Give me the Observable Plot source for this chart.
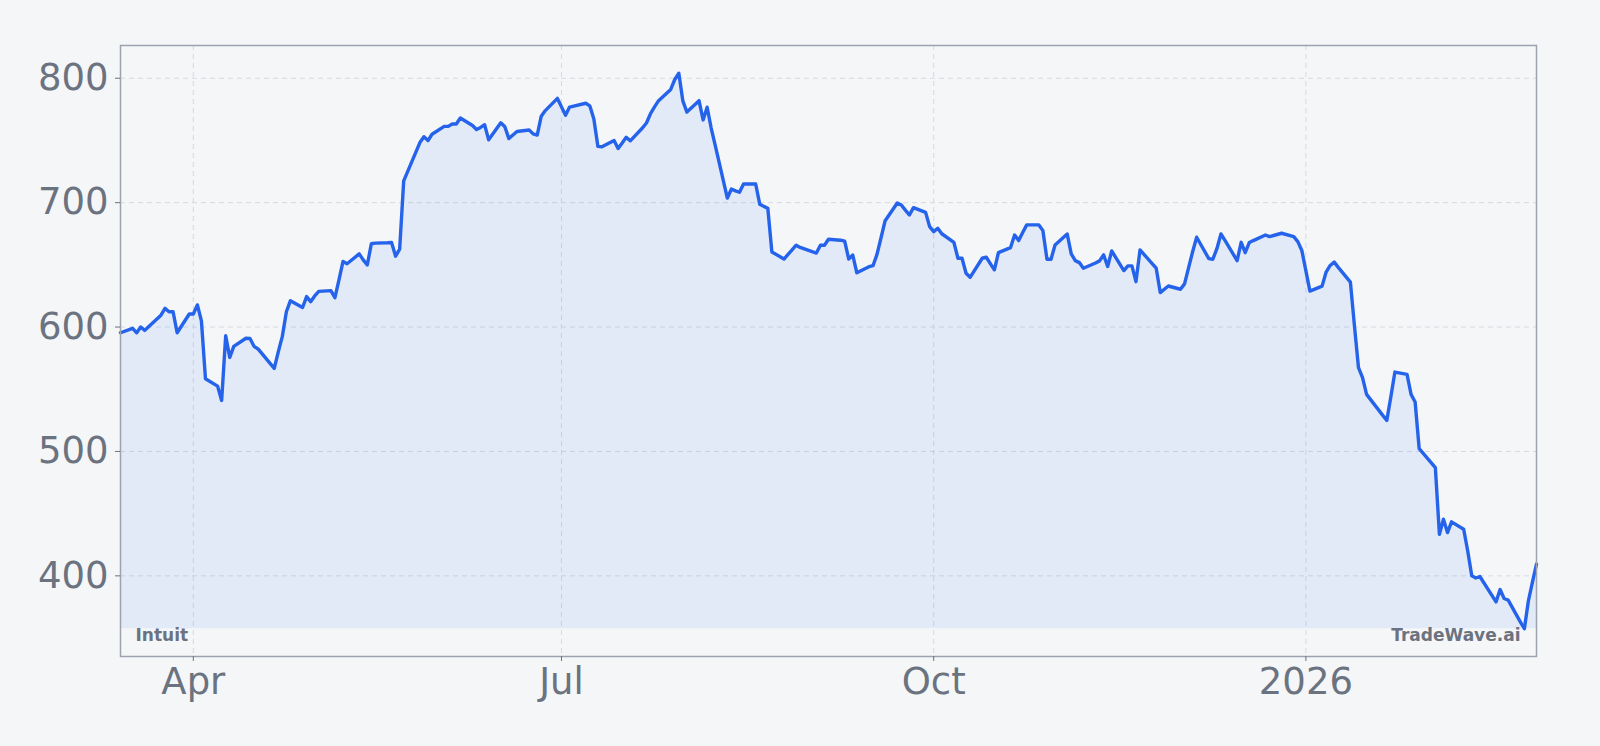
<!DOCTYPE html>
<html>
<head>
<meta charset="utf-8">
<script src="https://cdn.jsdelivr.net/npm/d3@7"></script>
<script src="https://cdn.jsdelivr.net/npm/@observablehq/plot@0.6"></script>
<style>
  html, body { margin: 0; padding: 0; background: #f5f6f8; }
  #chart { width: 1600px; height: 746px; }
</style>
</head>
<body>
<div id="chart"></div>
<script>
const dates = [
  "2025-03-14","2025-03-17","2025-03-18","2025-03-19","2025-03-20","2025-03-21","2025-03-24","2025-03-25","2025-03-26","2025-03-27","2025-03-28","2025-03-31",
  "2025-04-01","2025-04-02","2025-04-03","2025-04-04","2025-04-07","2025-04-08","2025-04-09","2025-04-10","2025-04-11","2025-04-14","2025-04-15","2025-04-16","2025-04-17","2025-04-21","2025-04-22","2025-04-23","2025-04-24","2025-04-25","2025-04-28","2025-04-29","2025-04-30",
  "2025-05-01","2025-05-02","2025-05-05","2025-05-06","2025-05-07","2025-05-08","2025-05-09","2025-05-12","2025-05-13","2025-05-14","2025-05-15","2025-05-16","2025-05-19","2025-05-20","2025-05-21","2025-05-22","2025-05-23","2025-05-27","2025-05-28","2025-05-29","2025-05-30",
  "2025-06-02","2025-06-03","2025-06-04","2025-06-05","2025-06-06","2025-06-09","2025-06-10","2025-06-11","2025-06-12","2025-06-13","2025-06-16","2025-06-17","2025-06-18","2025-06-20","2025-06-23","2025-06-24","2025-06-25","2025-06-26","2025-06-27","2025-06-30",
  "2025-07-01","2025-07-02","2025-07-03","2025-07-07","2025-07-08","2025-07-09","2025-07-10","2025-07-11","2025-07-14","2025-07-15","2025-07-16","2025-07-17","2025-07-18","2025-07-21","2025-07-22","2025-07-23","2025-07-24","2025-07-25","2025-07-28","2025-07-29","2025-07-30","2025-07-31",
  "2025-08-01","2025-08-04","2025-08-05","2025-08-06","2025-08-07","2025-08-08","2025-08-11","2025-08-12","2025-08-13","2025-08-14","2025-08-15","2025-08-18","2025-08-19","2025-08-20","2025-08-21","2025-08-22","2025-08-25","2025-08-26","2025-08-27","2025-08-28","2025-08-29",
  "2025-09-02","2025-09-03","2025-09-04","2025-09-05","2025-09-08","2025-09-09","2025-09-10","2025-09-11","2025-09-12","2025-09-15","2025-09-16","2025-09-17","2025-09-18","2025-09-19","2025-09-22","2025-09-23","2025-09-24","2025-09-25","2025-09-26","2025-09-29","2025-09-30",
  "2025-10-01","2025-10-02","2025-10-03","2025-10-06","2025-10-07","2025-10-08","2025-10-09","2025-10-10","2025-10-13","2025-10-14","2025-10-15","2025-10-16","2025-10-17","2025-10-20","2025-10-21","2025-10-22","2025-10-23","2025-10-24","2025-10-27","2025-10-28","2025-10-29","2025-10-30","2025-10-31",
  "2025-11-03","2025-11-04","2025-11-05","2025-11-06","2025-11-07","2025-11-10","2025-11-11","2025-11-12","2025-11-13","2025-11-14","2025-11-17","2025-11-18","2025-11-19","2025-11-20","2025-11-21","2025-11-24","2025-11-25","2025-11-26","2025-11-28",
  "2025-12-01","2025-12-02","2025-12-03","2025-12-04","2025-12-05","2025-12-08","2025-12-09","2025-12-10","2025-12-11","2025-12-12","2025-12-15","2025-12-16","2025-12-17","2025-12-18","2025-12-19","2025-12-22","2025-12-23","2025-12-24","2025-12-26","2025-12-29","2025-12-30","2025-12-31",
  "2026-01-02","2026-01-05","2026-01-06","2026-01-07","2026-01-08","2026-01-09","2026-01-12","2026-01-13","2026-01-14","2026-01-15","2026-01-16","2026-01-20","2026-01-21","2026-01-22","2026-01-23","2026-01-26","2026-01-27","2026-01-28","2026-01-29","2026-01-30",
  "2026-02-02","2026-02-03","2026-02-04","2026-02-05","2026-02-06","2026-02-09","2026-02-10","2026-02-11","2026-02-12","2026-02-13","2026-02-17","2026-02-18","2026-02-19","2026-02-20","2026-02-23","2026-02-24","2026-02-25","2026-02-26","2026-02-27"
];
const prices = [
  595.4,599,595.4,600,597.3,600.5,609.5,615,612.3,612.3,595.4,610.5,
  610.5,617.8,605,558.5,552.5,541,593,575.6,584.5,591,590.8,584.5,582.4,566.8,580,592.5,612.3,621.2,615.7,624.5,620.4,
  625,628.7,629.3,623.6,638,652.8,650.9,658.8,654,649.9,667,667.5,667.8,668,657,662.6,717.5,748.3,753,749.9,755,
  761.3,761.3,763.2,763.2,768,762,758.8,760.5,762.6,750.5,764.2,761,751.5,757.2,758.4,755.3,754.3,769.5,774,783.8,
  777,770.3,776.8,779.9,777.8,767.3,745.2,744.9,750,743.5,748,752.5,749.7,760,764,771.5,777,782,791,799,804,781.8,
  772.8,782,766.5,776.7,760,746,703.7,711,709.5,708.4,715,715,698.8,697,695.5,660.4,654.7,658.4,662.1,665.8,664,
  659.5,665.8,665.8,670.6,669.8,669,654.7,657.9,643.6,648.5,649.3,658.6,672,685.5,699.7,698.1,694,690.1,696,692.2,680.7,
  676.7,679.4,675,668,655.3,655.3,643.2,640,655.3,656.1,651,646,659.8,663.9,674,669.5,676,682.1,682.1,677.5,654.5,654.5,666,
  674.8,658.8,653.4,651.8,647.3,651.5,653.2,658,648.7,661.2,645.4,649.2,649.2,636.5,662,651,647.3,627.7,633,
  630.4,634.7,647.6,660.5,672.2,655,654.5,663,674.8,669.6,653.4,668.1,659.8,667.9,669.5,674,672.7,673.6,675.4,672.7,668.7,661.5,
  628.9,632.9,644.2,649.5,652.2,648,636.1,601,567.3,559.3,545.9,529,525,544,563.8,562,545.9,539.8,502.3,498.5,
  487,433.5,445.5,434.8,443.4,437.5,420,400,398.3,399.5,379.1,389,381.8,380.5,363,357.5,380,395,409.5
];
const xTickDates = ["2025-04-01","2025-07-01","2025-10-01","2026-01-01"];
const yTickValues = [400, 500, 600, 700, 800];
const sourceLabel = "Intuit";
const brandLabel = "TradeWave.ai";

const data = dates.map((d, i) => ({date: new Date(d), price: prices[i]}));
const xTicks = xTickDates.map(d => new Date(d));
const yMin = d3.min(prices), yMax = d3.max(prices);
const pad = (yMax - yMin) * 0.05;
const fmtMonth = d3.utcFormat("%b");
const tickFormat = d => d.getUTCMonth() === 0 ? String(d.getUTCFullYear()) : fmtMonth(d);

const chart = Plot.plot({
  width: 1600,
  height: 746,
  marginTop: 45,
  marginRight: 64,
  marginBottom: 90,
  marginLeft: 120,
  style: {background: "#f5f6f8", fontFamily: "DejaVu Sans", color: "#6b7280"},
  x: {type: "utc", domain: d3.extent(data, d => d.date)},
  y: {domain: [yMin - pad, yMax + pad]},
  marks: [
    Plot.gridX(xTicks, {stroke: "#d6dae0", strokeOpacity: 1, strokeDasharray: "5,4"}),
    Plot.gridY(yTickValues, {stroke: "#d6dae0", strokeOpacity: 1, strokeDasharray: "5,4"}),
    Plot.areaY(data, {x: "date", y1: yMin, y2: "price", fill: "#3b82f6", fillOpacity: 0.1}),
    Plot.lineY(data, {x: "date", y: "price", stroke: "#2563eb", strokeWidth: 3.4}),
    Plot.frame({stroke: "#9ca3af", strokeWidth: 1.5}),
    Plot.axisX(xTicks, {tickFormat, tickSize: 5, tickPadding: 6, fontSize: 37, label: null}),
    Plot.axisY(yTickValues, {tickSize: 5, tickPadding: 7, fontSize: 37, label: null}),
    Plot.text([sourceLabel], {text: d => d, frameAnchor: "bottom-left", dx: 15, dy: -16, textAnchor: "start", lineAnchor: "bottom", fontWeight: "bold", fontSize: 17, fill: "#6b7280"}),
    Plot.text([brandLabel], {text: d => d, frameAnchor: "bottom-right", dx: -16, dy: -16, textAnchor: "end", lineAnchor: "bottom", fontWeight: "bold", fontSize: 17, fill: "#6b7280"})
  ]
});
document.getElementById("chart").appendChild(chart);
</script>
</body>
</html>
